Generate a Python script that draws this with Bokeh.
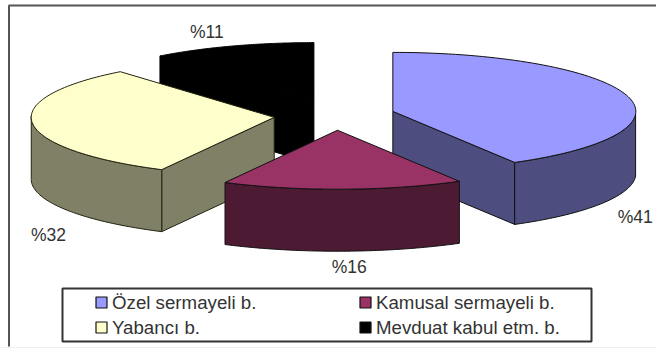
import numpy as np
from bokeh.core.properties import value
from bokeh.embed import file_html
from bokeh.plotting import figure
from bokeh.resources import INLINE

# Bank groups and their share of the sector, in percent
categories = ["Özel sermayeli b.", "Kamusal sermayeli b.", "Yabancı b.", "Mevduat kabul etm. b."]
shares = [41, 16, 32, 11]
top_colors = ["#9999FF", "#993366", "#FFFFCC", "#000000"]
side_colors = ["#4D4D80", "#4D1A33", "#808066", "#000000"]
edge_colors = ["#111111", "#111111", "#222211", "#000000"]

# Pie projection, in page pixels
CX, CY = 334.0, 115.0
RX, RY = 243.0, 59.0
DEPTH = 62.0
EXPLODE = 0.25
FONT = value("Liberation Sans")
TEXT_COLOR = "#333333"

# Percentage label offsets from each slice's rim midpoint
label_offsets = [(8, 59), (7, 16), (16, 50), (-25, -14.5)]
# Small horizontal correction of each slice's apex
apex_shift = [0, -0.8, 0, 0]


def project(theta):
    """Clockwise degrees from 12 o'clock to the unit-circle point on screen."""
    phi = np.radians(theta + 2.5 * np.sin(np.radians(theta) / 2) ** 2)
    return np.sin(phi), np.cos(phi)


p = figure(width=656, height=348, x_range=(0, 656), y_range=(348, 0),
           output_backend="svg", toolbar_location=None, min_border=0,
           outline_line_color=None, background_fill_color="#FFFFFF")
p.axis.visible = False
p.grid.visible = False

# Image frame and the pale strip below it
p.quad(left=0, right=656, top=346.5, bottom=348, fill_color="#EFEFEF", line_color=None)
p.line([656, 8.5, 8.5], [5, 5, 346], line_color="#555555", line_width=2)

edges = np.cumsum([0] + shares) * 3.6
slices = []
for i, share in enumerate(shares):
    start, end = edges[i], edges[i + 1]
    mid = (start + end) / 2
    ax = CX + EXPLODE * RX * np.sin(np.radians(mid)) + apex_shift[i]
    ay = CY - EXPLODE * RY * np.cos(np.radians(mid))
    slices.append(dict(start=start, end=end, mid=mid, ax=ax, ay=ay))

# Rear slices are painted first so that the nearer ones overlap them
paint_order = [3, 0, 2, 1]
for i in paint_order:
    s = slices[i]
    ts = np.linspace(s["start"], s["end"], 90)
    sx, cy = project(ts)
    rim_x = s["ax"] + RX * sx
    rim_y = s["ay"] - RY * cy
    edge = edge_colors[i]

    # Radial wall that faces the viewer, if this slice has one
    wall = None
    if s["end"] < 180:
        wall = -1
    elif s["start"] > 180:
        wall = 0
    if wall is not None:
        xs = [s["ax"], rim_x[wall], rim_x[wall], s["ax"]]
        ys = [s["ay"], rim_y[wall], rim_y[wall] + DEPTH, s["ay"] + DEPTH]
        p.patch(xs, ys, fill_color=side_colors[i], line_color=edge, line_width=1)

    # Outer wall along the front half of the rim
    front = (ts >= 90) & (ts <= 270)
    if front.any():
        fx, fy = rim_x[front], rim_y[front]
        p.patch(np.r_[fx, fx[::-1]], np.r_[fy, fy[::-1] + DEPTH],
                fill_color=side_colors[i], line_color=edge, line_width=1)

    # Top surface
    p.patch(np.r_[s["ax"], rim_x], np.r_[s["ay"], rim_y],
            fill_color=top_colors[i], line_color=edge, line_width=1)

# Percentage labels
for s, off, share in zip(slices, label_offsets, shares):
    sx, cy = project(s["mid"])
    lx = s["ax"] + RX * sx + off[0]
    ly = s["ay"] - RY * cy + off[1] + (DEPTH if cy < 0.3 else 0)
    p.text([lx], [ly], text=[f"%{share}"], text_font=FONT, text_font_size="17.5px",
           text_color=TEXT_COLOR, text_align="center", text_baseline="middle")

# Legend
p.quad(left=62, right=591, top=288, bottom=341, fill_color="#FFFFFF",
       line_color="#333333", line_width=2)
legend_cols = [95.5, 359.5]
legend_rows = [302, 327]
legend_slots = [(0, 0), (1, 0), (0, 1), (1, 1)]
for name, color, (c, r) in zip(categories, top_colors, legend_slots):
    x, y = legend_cols[c], legend_rows[r]
    p.quad(left=x, right=x + 11, top=y - 5.5, bottom=y + 5.5, fill_color=color,
           line_color="#111111", line_width=1.2)
    p.text([x + 16], [y], text=[name], text_font=FONT, text_font_size="18.7px",
           text_color=TEXT_COLOR, text_align="left", text_baseline="middle")

open("out.html", "w").write(file_html(p, INLINE))
